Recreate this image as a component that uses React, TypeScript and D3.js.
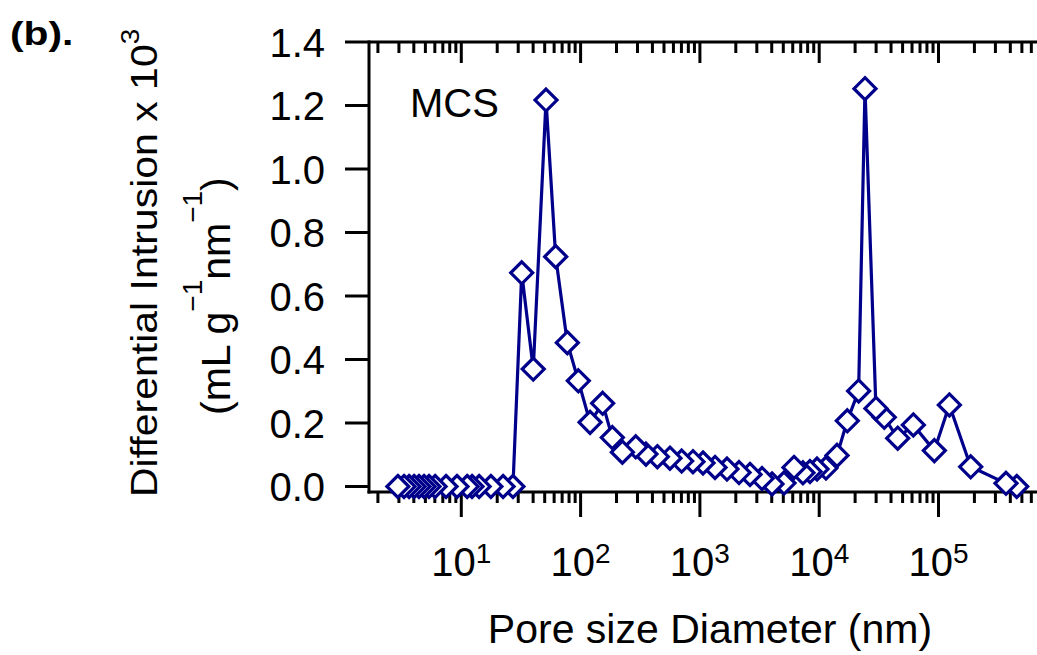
import React from "react";
import * as d3 from "d3";

const diameters = [2.94, 3.31, 3.65, 4.02, 4.42, 4.87, 5.36, 6.03, 7.45, 9.2, 11.2, 12.3, 14.1, 17.7, 22.4, 27.1,
  32.1, 40.1, 51.3, 61.8, 77.4, 95.7, 120, 153, 184.5, 224,
  290, 353, 440, 561, 703, 875, 1062, 1339, 1687, 2128, 2630, 3318, 4020, 5070, 6150, 7310, 8370, 9590,
  11400, 14100, 17200, 21400, 24200, 29900, 35100, 45500, 61500, 92300, 123300, 186200, 368000, 452700];
const intrusion = [0, 0, 0, 0, 0, 0, 0, 0, 0, 0, 0, 0, 0, 0, 0, 0,
  0.673, 0.370, 1.217, 0.724, 0.453, 0.333, 0.202, 0.262, 0.154, 0.108,
  0.125, 0.102, 0.094, 0.089, 0.080, 0.078, 0.074, 0.060, 0.055, 0.044, 0.038, 0.025, 0.008, 0.011, 0.060, 0.043, 0.047, 0.055,
  0.058, 0.098, 0.207, 0.301, 1.253, 0.246, 0.218, 0.152, 0.194, 0.113, 0.257, 0.062, 0.010, 0.000];
const yTicks = [0, 0.2, 0.4, 0.6, 0.8, 1.0, 1.2, 1.4];
const xMajorExponents = [1, 2, 3, 4, 5];

const W = 1037, H = 655;
const FONT = "'Liberation Sans', Arial, sans-serif";
const NAVY = "#00008b";

export default function App() {
  const x = d3.scaleLog().domain([10, 1e5]).range([461.3, 938.5]);
  const y = d3.scaleLinear().domain([0, 1.4]).range([486.5, 42]);
  const xLeft = 369;
  const xRight = W + 5;
  const yBottom = 492;
  const yTop = y(1.4);

  const minor: number[] = [];
  const major: number[] = [];
  for (let e = 0; e <= 6; e++) {
    for (let m = 1; m <= 9; m++) {
      const v = m * Math.pow(10, e);
      const px = x(v);
      if (px < xLeft + 2 || px > xRight) continue;
      if (m === 1) major.push(v); else minor.push(v);
    }
  }

  const pts = diameters.map((d, i) => [x(d), y(intrusion[i])] as [number, number]);
  const line = d3.line()(pts) || "";
  const r = 11;
  const diamond = (cx: number, cy: number) => `M${cx},${cy - r}L${cx + r},${cy}L${cx},${cy + r}L${cx - r},${cy}Z`;

  return (
    <svg width={W} height={H} style={{ position: "absolute", left: 0, top: 0, background: "#fff" }} fontFamily={FONT}>
      <rect x={0} y={0} width={W} height={H} fill="#fff" />
      {/* axes */}
      <line x1={xLeft} x2={xLeft} y1={yTop - 1.5} y2={yBottom + 1.5} stroke="#000" strokeWidth={3} />
      <line x1={xLeft - 1.5} x2={xRight} y1={yBottom} y2={yBottom} stroke="#000" strokeWidth={3} />
      <line x1={xLeft} x2={xRight} y1={yTop} y2={yTop} stroke="#000" strokeWidth={3} />
      {/* y ticks */}
      {yTicks.map((t) => (
        <g key={"yt" + t}>
          <line x1={345} x2={xLeft} y1={y(t)} y2={y(t)} stroke="#000" strokeWidth={3} />
          <text x={325} y={y(t) + 14.5} fontSize={40} textAnchor="end" fill="#000">{t.toFixed(1)}</text>
        </g>
      ))}
      {/* x ticks */}
      {minor.map((v) => (
        <g key={"mn" + v}>
          <line x1={x(v)} x2={x(v)} y1={yBottom} y2={yBottom + 11} stroke="#000" strokeWidth={3} />
          <line x1={x(v)} x2={x(v)} y1={yTop} y2={yTop + 11} stroke="#000" strokeWidth={3} />
        </g>
      ))}
      {major.map((v) => (
        <g key={"mj" + v}>
          <line x1={x(v)} x2={x(v)} y1={yBottom} y2={yBottom + 25} stroke="#000" strokeWidth={3} />
          <line x1={x(v)} x2={x(v)} y1={yTop} y2={yTop + 21} stroke="#000" strokeWidth={3} />
        </g>
      ))}
      {xMajorExponents.map((e) => (
        <text key={"xl" + e} x={x(Math.pow(10, e))} y={576} fontSize={40} textAnchor="middle" fill="#000">
          10<tspan fontSize={28} dy={-13}>{e}</tspan>
        </text>
      ))}
      {/* data */}
      <path d={line} fill="none" stroke={NAVY} strokeWidth={3.2} strokeLinejoin="round" />
      {pts.slice().reverse().map(([cx, cy], i) => (
        <path key={"pt" + i} d={diamond(cx, cy)} fill="#fff" stroke={NAVY} strokeWidth={3.2} />
      ))}
      {/* labels */}
      <text x={410} y={117} fontSize={40} fill="#000">MCS</text>
      <text x={710} y={643} fontSize={41} textAnchor="middle" fill="#000">Pore size Diameter (nm)</text>
      <text transform="translate(157,497) rotate(-90) scale(1,0.9)" fontSize={41} fill="#000">
        Differential Intrusion x 10<tspan fontSize={28} dy={-20}>3</tspan>
      </text>
      <text transform="translate(230,415) rotate(-90)" fontSize={41} fill="#000">
        (mL g<tspan fontSize={28} dy={-28}>−1</tspan><tspan dy={28}>nm</tspan><tspan fontSize={28} dy={-28}>−1</tspan><tspan dy={28}>)</tspan>
      </text>
      <text transform="translate(10,45) scale(1.2,1)" fontSize={34} fontWeight="bold" fill="#000">(b).</text>
    </svg>
  );
}
